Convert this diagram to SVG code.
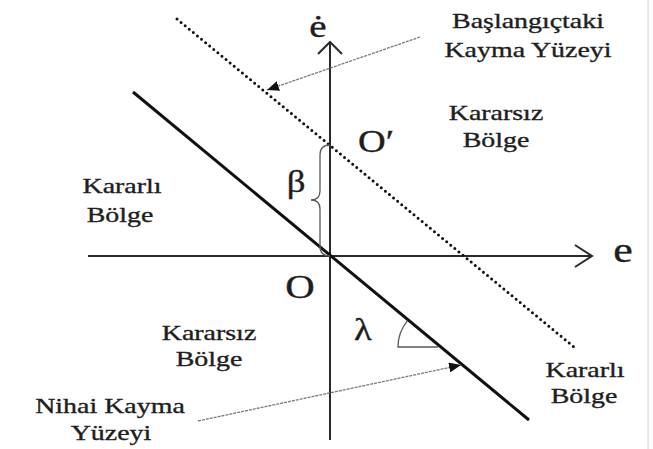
<svg xmlns="http://www.w3.org/2000/svg" width="653" height="449" viewBox="0 0 653 449">
<defs>
<style>
text{font-family:'Liberation Serif','Times New Roman',Tinos,'DejaVu Serif','Noto Serif',serif;fill:#1e1e1e;stroke:#1e1e1e;stroke-width:0.35;text-anchor:middle}
.lbl{font-size:22px}
.axis{stroke:#2a2a2a;stroke-width:2;fill:none}
.leader{stroke:#7a7a7a;stroke-width:1.3;fill:none;stroke-dasharray:3 1}
.thin{stroke:#5a5a5a;stroke-width:1.3;fill:none}
</style>
<marker id="tri" viewBox="0 0 12 10" refX="12" refY="5" markerWidth="12" markerHeight="10" markerUnits="userSpaceOnUse" orient="auto">
<path d="M0,0 L12,5 L0,10 z" fill="#111"/>
</marker>
</defs>
<rect width="653" height="449" fill="#ffffff"/>
<line x1="648" y1="0" x2="648" y2="449" stroke="#d4d4d4" stroke-width="1"/>
<g id="connectors">
<line class="axis" x1="88" y1="256" x2="591" y2="256"/>
<polyline class="axis" points="575,245 592,256 575,267"/>
<line class="axis" x1="330" y1="440" x2="330" y2="43"/>
<polyline class="axis" points="318,54 330,42 342,54"/>
<line x1="177" y1="19" x2="574" y2="347" stroke="#111" stroke-width="3" stroke-linecap="round" stroke-dasharray="0 5.3"/>
<line x1="133" y1="92" x2="529" y2="420" stroke="#111" stroke-width="3"/>
<path class="thin" d="M330,145 Q320,145 320,155 V191 Q320,200 311,200 Q320,200 320,209 V246 Q320,256 330,256"/>
<path class="thin" d="M438,347 H398 A41,41 0 0 1 407.4,320.9"/>
<line class="leader" x1="420" y1="37" x2="267" y2="90" marker-end="url(#tri)"/>
<line class="leader" x1="198" y1="421" x2="461" y2="365" marker-end="url(#tri)"/>
</g>
<g id="axis-e"><text font-size="36" transform="translate(623,262) scale(1.22,1)">e</text></g>
<g id="axis-edot"><text font-size="32" transform="translate(318,37) scale(1.22,1)">ė</text></g>
<g id="origin-O"><text font-size="34" transform="translate(300,298) scale(1.2,1)">O</text></g>
<g id="origin-O-prime"><text font-size="32" transform="translate(376,152) scale(1.2,1)">O′</text></g>
<g id="beta"><text font-size="32" transform="translate(296,192) scale(1.15,1)">β</text></g>
<g id="lambda"><text font-size="32" transform="translate(363,340) scale(1.15,1)">λ</text></g>
<g id="initial-surface"><text class="lbl" transform="translate(528,28) scale(1.27,1)">Başlangıçtaki</text><text class="lbl" transform="translate(528,57) scale(1.27,1)">Kayma Yüzeyi</text></g>
<g id="unstable-top"><text class="lbl" transform="translate(496,120) scale(1.27,1)">Kararsız</text><text class="lbl" transform="translate(496,147) scale(1.27,1)">Bölge</text></g>
<g id="stable-left"><text class="lbl" transform="translate(122,193) scale(1.27,1)">Kararlı</text><text class="lbl" transform="translate(120,222) scale(1.27,1)">Bölge</text></g>
<g id="unstable-bottom"><text class="lbl" transform="translate(209,340) scale(1.27,1)">Kararsız</text><text class="lbl" transform="translate(209,366) scale(1.27,1)">Bölge</text></g>
<g id="stable-right"><text class="lbl" transform="translate(585,377) scale(1.27,1)">Kararlı</text><text class="lbl" transform="translate(584,403) scale(1.27,1)">Bölge</text></g>
<g id="final-surface"><text class="lbl" transform="translate(110,413) scale(1.27,1)">Nihai Kayma</text><text class="lbl" transform="translate(111,440) scale(1.27,1)">Yüzeyi</text></g>
</svg>
